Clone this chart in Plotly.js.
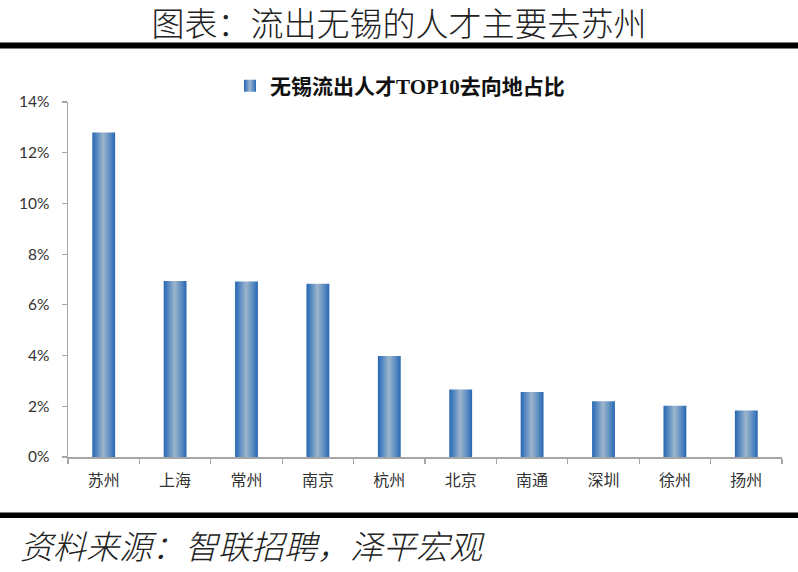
<!DOCTYPE html>
<html>
<head>
<meta charset="utf-8">
<script src="https://cdn.plot.ly/plotly-3.0.1.min.js"></script>
<style>
  html, body { margin: 0; padding: 0; background: #fff; }
  #chart { width: 798px; height: 572px; }
</style>
</head>
<body>
<div id="chart"></div>
<script>
// Top 10 destinations of talent leaving Wuxi (share, %)
const cities = ['苏州', '上海', '常州', '南京', '杭州', '北京', '南通', '深圳', '徐州', '扬州'];
const shares = [12.8, 6.94, 6.92, 6.83, 3.98, 2.66, 2.56, 2.2, 2.02, 1.83];
const yTicks = [0, 2, 4, 6, 8, 10, 12, 14];

const seriesName = '无锡流出人才TOP10去向地占比';
const chartTitle = '图表：流出无锡的人才主要去苏州';
const sourceNote = '资料来源：智联招聘，泽平宏观';

const axisGrey = '#A6A6A6';
const labelColor = '#333333';
const cjk = '"Noto Sans CJK SC", "Noto Sans", sans-serif';

const data = [{
  type: 'bar',
  name: seriesName,
  x: cities,
  y: shares,
  marker: { color: '#2E6DB4', line: { width: 0 } },
  hoverinfo: 'x+y',
}];

const layout = {
  width: 798,
  height: 572,
  paper_bgcolor: '#FFFFFF',
  plot_bgcolor: '#FFFFFF',
  margin: { t: 102, r: 16, b: 115, l: 68 },
  bargap: 0.68,
  showlegend: true,
  title: {
    text: chartTitle,
    font: { family: cjk, size: 33, color: '#222222', weight: 300 },
    x: 0.5, xanchor: 'center', xref: 'container',
    y: 1 - 24 / 572, yanchor: 'middle', yref: 'container',
  },
  legend: {
    orientation: 'h',
    x: 0.465, xanchor: 'center',
    y: 1.045, yanchor: 'middle',
    font: { family: '"Liberation Serif", "Noto Sans CJK SC", serif', size: 21, color: '#111111', weight: 'bold' },
    itemwidth: 30,
    bgcolor: 'rgba(0,0,0,0)',
  },
  xaxis: {
    type: 'category',
    showline: true, linecolor: axisGrey, linewidth: 1.5,
    ticks: 'outside', tickson: 'boundaries', ticklen: 5, tickcolor: axisGrey, tickwidth: 1.2,
    tickfont: { family: cjk, size: 16, color: labelColor },
    ticklabelstandoff: 8,
    showgrid: false, zeroline: false,
    fixedrange: true,
  },
  yaxis: {
    range: [0, 14],
    tickvals: yTicks,
    ticktext: yTicks.map(v => v + '%'),
    showline: true, linecolor: axisGrey, linewidth: 1.5,
    ticks: 'outside', ticklen: 5, tickcolor: axisGrey, tickwidth: 1.2,
    tickfont: { family: 'Lato, "Open Sans", sans-serif', size: 15.5, color: labelColor },
    ticklabelstandoff: 9,
    showgrid: false, zeroline: false,
    fixedrange: true,
  },
  shapes: [
    // thick rule under the title
    { type: 'rect', xref: 'paper', yref: 'paper', x0: -0.2, x1: 1.2,
      y0: (457 - 48.5) / 355, y1: (457 - 42.5) / 355, fillcolor: '#000000', line: { width: 0 } },
    // thick rule above the source note
    { type: 'rect', xref: 'paper', yref: 'paper', x0: -0.2, x1: 1.2,
      y0: (457 - 518) / 355, y1: (457 - 512.5) / 355, fillcolor: '#000000', line: { width: 0 } },
  ],
  annotations: [{
    text: sourceNote,
    xref: 'paper', yref: 'paper',
    x: (18 - 68) / 714, xanchor: 'left',
    y: (457 - 545) / 355, yanchor: 'middle',
    showarrow: false,
    font: { family: cjk, size: 33, color: '#222222', style: 'italic', weight: 300 },
  }],
};

Plotly.newPlot('chart', data, layout, { displayModeBar: false, staticPlot: true }).then(gd => {
  // horizontal shading on the bars: dark blue edges, pale centre
  const svg = gd.querySelector('.main-svg');
  const ns = 'http://www.w3.org/2000/svg';
  let defs = svg.querySelector('defs');
  if (!defs) { defs = document.createElementNS(ns, 'defs'); svg.insertBefore(defs, svg.firstChild); }
  const grad = document.createElementNS(ns, 'linearGradient');
  grad.setAttribute('id', 'barShade');
  grad.setAttribute('x1', '0'); grad.setAttribute('x2', '1');
  grad.setAttribute('y1', '0'); grad.setAttribute('y2', '0');
  [['0%', '#2766B2'], ['18%', '#4F85C0'], ['48%', '#9DB5CB'], ['78%', '#5A8CC2'], ['100%', '#2766B2']].forEach(([o, c]) => {
    const s = document.createElementNS(ns, 'stop');
    s.setAttribute('offset', o); s.setAttribute('stop-color', c);
    grad.appendChild(s);
  });
  defs.appendChild(grad);
  gd.querySelectorAll('.bars .point path, .legendpoints path').forEach(p => {
    p.style.fill = 'url(#barShade)';
  });
});
</script>
</body>
</html>
